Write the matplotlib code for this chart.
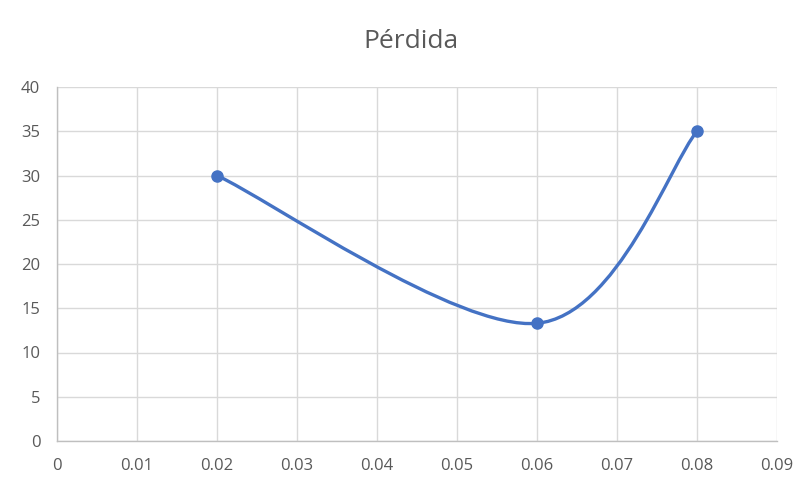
import matplotlib.pyplot as plt
import numpy as np
from matplotlib.path import Path
from matplotlib.patches import PathPatch

x_vals = [0.02, 0.06, 0.08]
y_vals = [30, 13.3, 35]
x_ticks = [0, 0.01, 0.02, 0.03, 0.04, 0.05, 0.06, 0.07, 0.08, 0.09]
x_labels = ['0', '0.01', '0.02', '0.03', '0.04', '0.05', '0.06', '0.07', '0.08', '0.09']
y_ticks = [0, 5, 10, 15, 20, 25, 30, 35, 40]
title = 'Pérdida'

line_color = '#4472c4'
text_color = '#595959'
grid_color = '#d9d9d9'

plt.rcParams['font.family'] = ['Open Sans', 'DejaVu Sans']

fig = plt.figure(figsize=(8.08, 4.87), dpi=100)
ax = fig.add_axes([57 / 808, 46 / 487, 720 / 808, 354 / 487])
ax.set_xlim(0, 0.09)
ax.set_ylim(0, 40)


def smooth_path(xs, ys, sx, sy):
    # excel-like smoothing: bezier with catmull-rom control points, in pixel space
    px = np.array(xs) * sx
    py = np.array(ys) * sy
    n = len(px)
    verts = [(px[0], py[0])]
    codes = [Path.MOVETO]
    for i in range(n - 1):
        i0 = max(i - 1, 0)
        i3 = min(i + 2, n - 1)
        c1 = (px[i] + (px[i + 1] - px[i0]) / 6, py[i] + (py[i + 1] - py[i0]) / 6)
        c2 = (px[i + 1] - (px[i3] - px[i]) / 6, py[i + 1] - (py[i3] - py[i]) / 6)
        verts += [c1, c2, (px[i + 1], py[i + 1])]
        codes += [Path.CURVE4] * 3
    verts = [(vx / sx, vy / sy) for vx, vy in verts]
    return Path(verts, codes)


path = smooth_path(x_vals, y_vals, 720 / 0.09, 354 / 40)
ax.add_patch(PathPatch(path, facecolor='none', edgecolor=line_color, lw=2.4,
                       capstyle='round', zorder=3))
ax.plot(x_vals, y_vals, 'o', color=line_color, markersize=8, zorder=4)

ax.set_xticks(x_ticks)
ax.set_xticklabels(x_labels)
ax.set_yticks(y_ticks)
ax.grid(True, color=grid_color, lw=1)
ax.set_axisbelow(True)
ax.tick_params(length=0, colors=text_color, labelsize=12)
ax.tick_params(axis='x', pad=12)
ax.tick_params(axis='y', pad=12)
for s in ['top', 'right']:
    ax.spines[s].set_visible(False)
for s in ['left', 'bottom']:
    ax.spines[s].set_color('#bfbfbf')
    ax.spines[s].set_linewidth(1)

fig.text(411 / 808, 1 - 41 / 487, title, ha='center', va='center',
         fontsize=19, color=text_color)

fig.savefig('out.png', dpi=100)
